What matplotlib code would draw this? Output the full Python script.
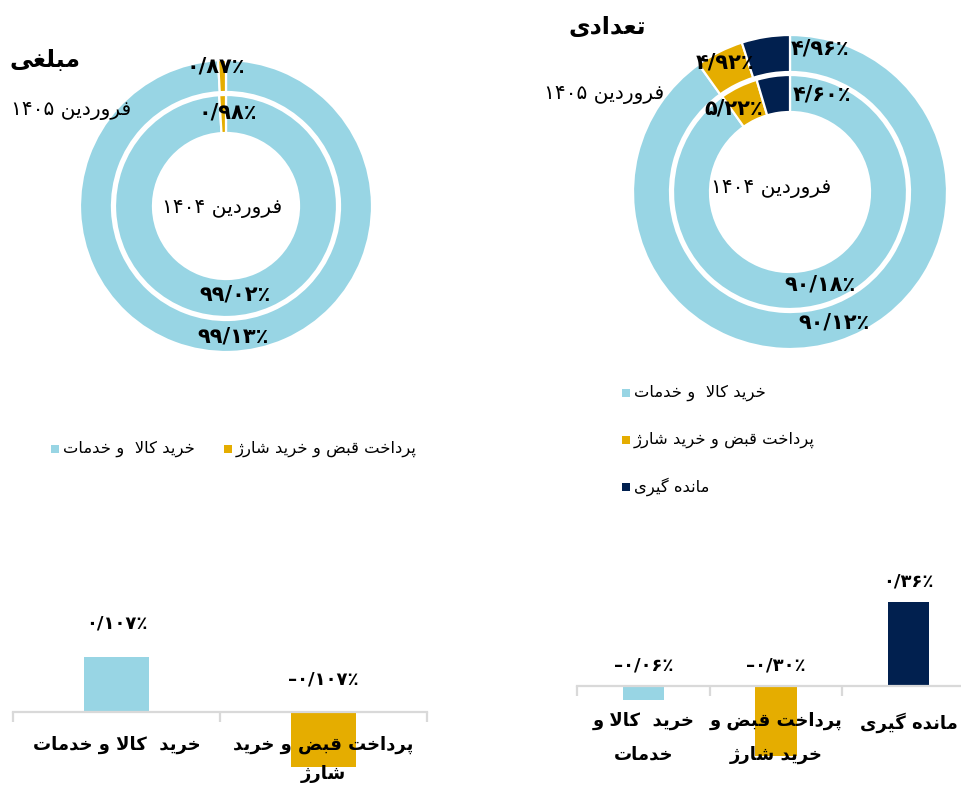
import matplotlib
matplotlib.use('Agg')
import matplotlib.pyplot as plt
from matplotlib.patches import Rectangle

# ---------------- data ----------------
amount_title = 'مبلغی'
count_title = 'تعدادی'
ring_outer_name = 'فروردین ۱۴۰۵'
ring_inner_name = 'فروردین ۱۴۰۴'

amount_cats = ['خرید کالا  و خدمات', 'پرداخت قبض و خرید شارژ']
amount_1405 = [99.13, 0.87]
amount_1404 = [99.02, 0.98]

count_cats = ['خرید کالا  و خدمات', 'پرداخت قبض و خرید شارژ', 'مانده گیری']
count_1405 = [90.12, 4.92, 4.96]
count_1404 = [90.18, 5.22, 4.60]

amount_change_labels = ['خرید  کالا و خدمات', 'پرداخت قبض و خرید\nشارژ']
amount_change = [0.107, -0.107]

count_change_labels = ['خرید  کالا و\nخدمات', 'پرداخت قبض و\nخرید شارژ', 'مانده گیری']
count_change = [-0.06, -0.30, 0.36]

BLUE = '#98D5E4'
ORANGE = '#E5AD00'
NAVY = '#01204F'
AXIS_GRAY = '#D9D9D9'

# ---------------- minimal Persian shaping + RTL ordering ----------------
FORMS = {
    'ا': ('\uFE8D', '\uFE8E', None, None),
    'ب': ('\uFE8F', '\uFE90', '\uFE91', '\uFE92'),
    'پ': ('\uFB56', '\uFB57', '\uFB58', '\uFB59'),
    'ت': ('\uFE95', '\uFE96', '\uFE97', '\uFE98'),
    'خ': ('\uFEA5', '\uFEA6', '\uFEA7', '\uFEA8'),
    'د': ('\uFEA9', '\uFEAA', None, None),
    'ر': ('\uFEAD', '\uFEAE', None, None),
    'ژ': ('\uFB8A', '\uFB8B', None, None),
    'ش': ('\uFEB5', '\uFEB6', '\uFEB7', '\uFEB8'),
    'ض': ('\uFEBD', '\uFEBE', '\uFEBF', '\uFEC0'),
    'ع': ('\uFEC9', '\uFECA', '\uFECB', '\uFECC'),
    'غ': ('\uFECD', '\uFECE', '\uFECF', '\uFED0'),
    'ف': ('\uFED1', '\uFED2', '\uFED3', '\uFED4'),
    'ق': ('\uFED5', '\uFED6', '\uFED7', '\uFED8'),
    'ک': ('\uFB8E', '\uFB8F', '\uFB90', '\uFB91'),
    'گ': ('\uFB92', '\uFB93', '\uFB94', '\uFB95'),
    'ل': ('\uFEDD', '\uFEDE', '\uFEDF', '\uFEE0'),
    'م': ('\uFEE1', '\uFEE2', '\uFEE3', '\uFEE4'),
    'ن': ('\uFEE5', '\uFEE6', '\uFEE7', '\uFEE8'),
    'ه': ('\uFEE9', '\uFEEA', '\uFEEB', '\uFEEC'),
    'و': ('\uFEED', '\uFEEE', None, None),
    'ی': ('\uFBFC', '\uFBFD', '\uFBFE', '\uFBFF'),
}


def shape(text):
    out = []
    n = len(text)
    i = 0
    prev_joins = False
    while i < n:
        c = text[i]
        if c == 'ل' and i + 1 < n and text[i + 1] == 'ا':
            out.append('\uFEFC' if prev_joins else '\uFEFB')
            prev_joins = False
            i += 2
            continue
        f = FORMS.get(c)
        if f is None:
            out.append(c)
            prev_joins = False
            i += 1
            continue
        nxt = text[i + 1] if i + 1 < n else None
        joins_next = f[2] is not None and nxt in FORMS
        if prev_joins and joins_next:
            g = f[3]
        elif prev_joins:
            g = f[1]
        elif joins_next:
            g = f[2]
        else:
            g = f[0]
        out.append(g)
        prev_joins = f[2] is not None
        i += 1
    return ''.join(out)


DIGITS = set('۰۱۲۳۴۵۶۷۸۹0123456789/٪%.')


def _rtl_line(s):
    s = shape(s)
    runs = []
    for ch in s:
        isd = ch in DIGITS
        if runs and runs[-1][0] == isd:
            runs[-1][1].append(ch)
        else:
            runs.append([isd, [ch]])
    return ''.join(''.join(chs if isd else reversed(chs)) for isd, chs in reversed(runs))


def rtl(s):
    return '\n'.join(_rtl_line(l) for l in s.split('\n'))


PDIG = str.maketrans('0123456789.', '۰۱۲۳۴۵۶۷۸۹/')


def pnum(v, dec):
    s = f'{abs(v):.{dec}f}'.translate(PDIG) + '٪'
    return ('\u2013' + s) if v < 0 else s


# ---------------- figure ----------------
W, H = 961, 794
plt.rcParams['font.family'] = ['DejaVu Sans']
fig = plt.figure(figsize=(W / 100, H / 100), dpi=100)


def px_axes(x0, y0, w, h):
    return fig.add_axes([x0 / W, 1 - (y0 + h) / H, w / W, h / H])


def donut(cx, cy, S, outer_vals, inner_vals, r_out, r_out_in, r_in, r_in_in, colors):
    ax = px_axes(cx - S, cy - S, 2 * S, 2 * S)
    ax.pie(outer_vals, radius=r_out / S, colors=colors, startangle=90, counterclock=False,
           wedgeprops=dict(width=(r_out - r_out_in) / S, edgecolor='white', linewidth=1.6))
    ax.pie(inner_vals, radius=r_in / S, colors=colors, startangle=90, counterclock=False,
           wedgeprops=dict(width=(r_in - r_in_in) / S, edgecolor='white', linewidth=1.6))
    ax.set_xlim(-1, 1)
    ax.set_ylim(-1, 1)
    ax.set_aspect('equal')
    ax.axis('off')
    return ax


donut(226, 206, 160, amount_1405, amount_1404, 146, 114, 111, 73, [BLUE, ORANGE])
donut(790, 192, 170, count_1405, count_1404, 157, 120, 117, 80, [BLUE, ORANGE, NAVY])

# overlay in pixel coordinates for text
ov = fig.add_axes([0, 0, 1, 1], zorder=10)
ov.set_xlim(0, W)
ov.set_ylim(H, 0)
ov.axis('off')
ov.patch.set_alpha(0)

LBL = dict(fontsize=15, fontweight='bold', ha='center', va='center', color='black')
# left donut labels
ov.text(216, 67, pnum(amount_1405[1], 2), **LBL)
ov.text(228, 112, pnum(amount_1404[1], 2), **LBL)
ov.text(235, 294, pnum(amount_1404[0], 2), **LBL)
ov.text(233, 337, pnum(amount_1405[0], 2), **LBL)
# right donut labels
ov.text(820, 48, pnum(count_1405[2], 2), **LBL)
ov.text(822, 95, pnum(count_1404[2], 2), **LBL)
ov.text(725, 62, pnum(count_1405[1], 2), **LBL)
ov.text(734, 109, pnum(count_1404[1], 2), **LBL)
ov.text(820, 285, pnum(count_1404[0], 2), **LBL)
ov.text(834, 323, pnum(count_1405[0], 2), **LBL)

NAME = dict(fontsize=14.5, ha='center', va='center', color='black')
ov.text(71, 110, rtl(ring_outer_name), **NAME)
ov.text(222, 209, rtl(ring_inner_name), **NAME)
ov.text(604, 95, rtl(ring_outer_name), **NAME)
ov.text(771, 188, rtl(ring_inner_name), **NAME)

TITLE = dict(fontsize=17, fontweight='bold', ha='center', va='center', color='black')
ov.text(45, 60, rtl(amount_title), **TITLE)
ov.text(607, 27, rtl(count_title), **TITLE)

# legends
LEG = dict(fontsize=11.8, ha='left', va='center', color='black')
def leg_item(x, y, color, label):
    ov.add_patch(Rectangle((x - 4, y - 4), 8, 8, facecolor=color, edgecolor='none'))
    ov.text(x + 8, y, rtl(label), **LEG)

leg_item(55, 449, BLUE, amount_cats[0])
leg_item(228, 449, ORANGE, amount_cats[1])
for k, (c, col) in enumerate(zip(count_cats, [BLUE, ORANGE, NAVY])):
    leg_item(626, 393 + 47 * k, col, c)


# ---------------- bar charts ----------------
def bar_chart(x0, w, axis_y, top, bottom, scale, vals, labels, colors, dec,
              val_off, lab_off, linesp):
    ax = px_axes(x0, top, w, bottom - top)
    n = len(vals)
    ax.set_xlim(-0.5, n - 0.5)
    ax.set_ylim(-(bottom - axis_y) / scale, (axis_y - top) / scale)
    ax.bar(range(n), vals, width=0.31, color=colors, zorder=2)
    for s in ['top', 'right', 'left']:
        ax.spines[s].set_visible(False)
    ax.spines['bottom'].set_position(('data', 0))
    ax.spines['bottom'].set_color(AXIS_GRAY)
    ax.spines['bottom'].set_linewidth(1.6)
    ax.spines['bottom'].set_zorder(3)
    ax.set_yticks([])
    ax.set_xticks([i - 0.5 for i in range(n + 1)])
    ax.set_xticklabels([])
    ax.tick_params(axis='x', length=7, width=1.6, color=AXIS_GRAY, direction='out')
    ax.patch.set_alpha(0)
    for i, v in enumerate(vals):
        ax.annotate(pnum(v, dec), xy=(i, max(v, 0)), xytext=(0, val_off),
                    textcoords='offset pixels', ha='center', va='center',
                    fontsize=13, fontweight='bold', zorder=5)
        ax.annotate(rtl(labels[i]), xy=(i, 0), xytext=(0, -lab_off),
                    textcoords='offset pixels', ha='center', va='top',
                    fontsize=13, fontweight='bold', linespacing=linesp, zorder=5,
                    annotation_clip=False)
    return ax


bar_chart(13, 414, 712, 595, 794, 515, amount_change, amount_change_labels,
          [BLUE, ORANGE], 3, 33, 24, 1.75)
bar_chart(577, 398, 686, 560, 794, 232, count_change, count_change_labels,
          [BLUE, ORANGE, NAVY], 2, 21, 26, 2.1)

fig.savefig('out.png', dpi=100)
